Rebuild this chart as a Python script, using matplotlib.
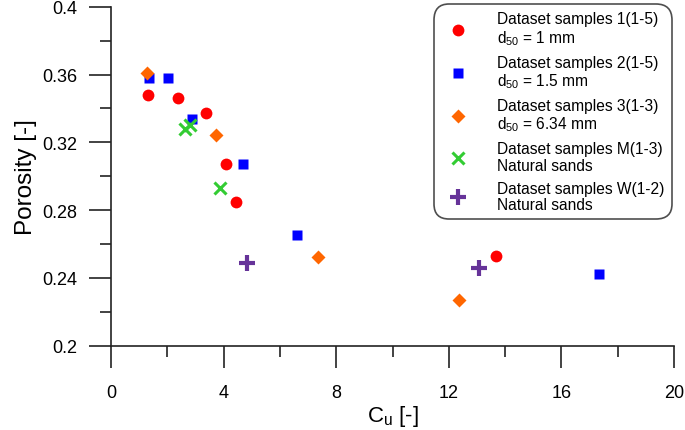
import matplotlib
matplotlib.use("Agg")
import matplotlib.pyplot as plt
from matplotlib.ticker import MultipleLocator

plt.rcParams['font.family'] = ['Liberation Sans', 'DejaVu Sans']
plt.rcParams['mathtext.fontset'] = 'custom'
plt.rcParams['mathtext.rm'] = 'Liberation Sans'

# data
s1_cu = [1.30, 2.37, 3.36, 4.09, 4.43, 13.67]
s1_n = [0.348, 0.346, 0.337, 0.307, 0.285, 0.253]
s2_cu = [1.36, 2.01, 2.89, 4.70, 6.60, 17.34]
s2_n = [0.358, 0.358, 0.334, 0.307, 0.265, 0.242]
s3_cu = [1.27, 3.73, 7.35, 12.36]
s3_n = [0.361, 0.324, 0.252, 0.227]
m_cu = [2.63, 2.81, 3.87]
m_n = [0.328, 0.330, 0.293]
w_cu = [4.84, 13.07]
w_n = [0.249, 0.246]

labels = ["Dataset samples 1(1-5)\n$\\mathregular{d_{50}}$ = 1 mm",
          "Dataset samples 2(1-5)\n$\\mathregular{d_{50}}$ = 1.5 mm",
          "Dataset samples 3(1-3)\n$\\mathregular{d_{50}}$ = 6.34 mm",
          "Dataset samples M(1-3)\nNatural sands",
          "Dataset samples W(1-2)\nNatural sands"]

fig = plt.figure(figsize=(6.85, 4.31), dpi=100)
ax = fig.add_axes([0.162, 0.196, 0.822, 0.786])

ax.plot(s1_cu, s1_n, 'o', color='#FF0000', ms=8.5, mec='none', label=labels[0])
ax.plot(s2_cu, s2_n, 's', color='#0000FF', ms=6.5, mec='none', label=labels[1])
ax.plot(s3_cu, s3_n, 'D', color='#FF6600', ms=7, mec='none', label=labels[2])
ax.plot(m_cu, m_n, 'x', color='#33CC33', ms=8, mew=2.2, label=labels[3])
ax.plot(w_cu, w_n, '+', color='#663399', ms=11, mew=3, label=labels[4])

ax.set_xlim(0, 20)
ax.set_ylim(0.2, 0.4)
ax.xaxis.set_major_locator(MultipleLocator(4))
ax.xaxis.set_minor_locator(MultipleLocator(2))
ax.yaxis.set_major_locator(MultipleLocator(0.04))
ax.yaxis.set_minor_locator(MultipleLocator(0.02))
ax.set_yticks([0.2, 0.24, 0.28, 0.32, 0.36, 0.4])
ax.set_yticklabels(['0.2', '0.24', '0.28', '0.32', '0.36', '0.4'])

for s in ['top', 'right']:
    ax.spines[s].set_visible(False)
for s in ['left', 'bottom']:
    ax.spines[s].set_linewidth(1.2)
    ax.spines[s].set_color('#222222')

ax.tick_params(which='major', length=16, width=1.2, labelsize=13, color='#222222')
ax.tick_params(which='minor', length=8, width=1.2, color='#222222')
ax.tick_params(axis='x', which='major', pad=12)
ax.tick_params(axis='y', which='major', pad=8)

ax.set_xlabel('C$\\mathregular{_u}$ [-]', fontsize=16, labelpad=1)
ax.set_ylabel('Porosity [-]', fontsize=17.5, labelpad=4)

leg = ax.legend(loc='upper right', bbox_to_anchor=(667 / 685, 1 - 10 / 431),
                bbox_transform=fig.transFigure, fontsize=11.2, frameon=True,
                fancybox=True, edgecolor='#222222', labelspacing=0.5,
                handletextpad=1.45, borderpad=0.15, handlelength=2.2,
                borderaxespad=0)
for t in leg.get_texts():
    t.set_linespacing(1.13)
leg.get_frame().set_linewidth(1.2)
leg.get_frame().set_boxstyle('round,pad=0.3,rounding_size=1.0')

fig.savefig('out.png', dpi=100)
